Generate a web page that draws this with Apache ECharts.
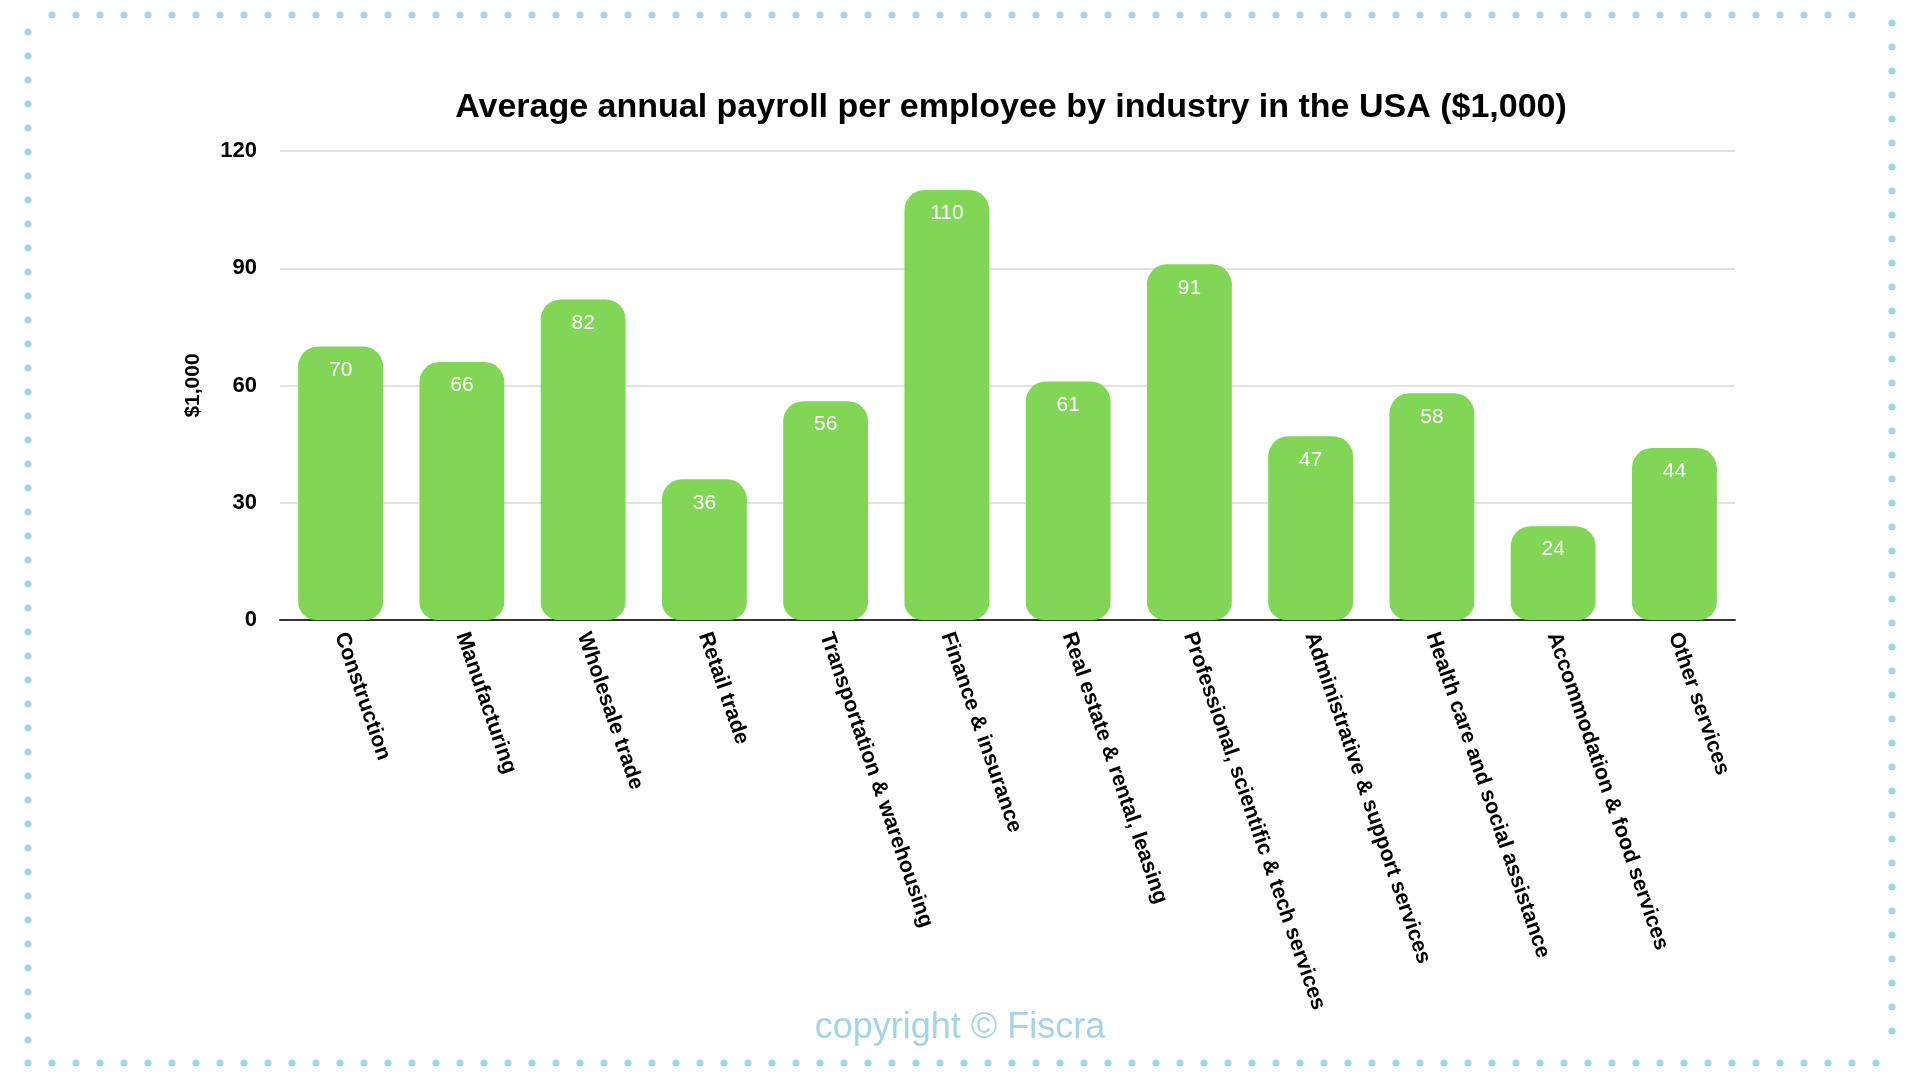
<!DOCTYPE html>
<html>
<head>
<meta charset="utf-8">
<style>
html,body{margin:0;padding:0;background:#fff;}
#chart{width:1920px;height:1080px;}
</style>
<script src="https://cdn.jsdelivr.net/npm/echarts@6/dist/echarts.min.js"></script>
</head>
<body>
<div id="chart"></div>
<script>
const categories = ["Construction","Manufacturing","Wholesale trade","Retail trade","Transportation & warehousing","Finance & insurance","Real estate & rental, leasing","Professional, scientific & tech services","Administrative & support services","Health care and social assistance","Accommodation & food services","Other services"];
const values = [70,66,82,36,56,110,61,91,47,58,24,44];
const yTicks = [0,30,60,90,120];

const FONT = '"Liberation Sans", Arial, Helvetica, sans-serif';
const DOT = '#a3d4ea';

// decorative dotted frame
const frame = [];
for (let x = 52; x <= 1870; x += 24) frame.push({type:'circle', shape:{cx:x, cy:15, r:3.6}, style:{fill:DOT}, silent:true});
for (let x = 28; x <= 1880; x += 24) frame.push({type:'circle', shape:{cx:x, cy:1063, r:3.6}, style:{fill:DOT}, silent:true});
for (let y = 32; y <= 1050; y += 24) frame.push({type:'circle', shape:{cx:28, cy:y, r:3.6}, style:{fill:DOT}, silent:true});
for (let y = 23; y <= 1050; y += 24) frame.push({type:'circle', shape:{cx:1892, cy:y, r:3.6}, style:{fill:DOT}, silent:true});
frame.push({type:'text', left:'center', top:1010, style:{text:'copyright \u00a9 Fiscra', font:'36px ' + FONT, fill:DOT}, silent:true});

const chart = echarts.init(document.getElementById('chart'), null, {renderer:'canvas'});
chart.setOption({
  backgroundColor:'#ffffff',
  animation:false,
  title:{
    text:'Average annual payroll per employee by industry in the USA ($1,000)',
    left:1006, textAlign:'center', top:86,
    textStyle:{fontFamily:FONT, fontWeight:'bold', fontSize:34, color:'#000'}
  },
  grid:{left:280, right:185, top:151, bottom:460, containLabel:false},
  xAxis:{
    type:'category', data:categories,
    axisLine:{show:true, lineStyle:{color:'#333', width:2}},
    axisTick:{show:false},
    axisLabel:{rotate:-71, interval:0, margin:13, fontFamily:FONT, fontWeight:'bold', fontSize:21.5, color:'#000'}
  },
  yAxis:{
    type:'value', min:yTicks[0], max:yTicks[yTicks.length-1], interval:30,
    name:'$1,000', nameLocation:'middle', nameGap:76, nameRotate:90,
    nameTextStyle:{fontFamily:FONT, fontWeight:'bold', fontSize:21, color:'#000'},
    axisLine:{show:false}, axisTick:{show:false},
    axisLabel:{margin:23, fontFamily:FONT, fontWeight:'bold', fontSize:22, color:'#000'},
    splitLine:{lineStyle:{color:'#d9d9d9', width:1.5}}
  },
  series:[{
    type:'bar', data:values, barWidth:'70%',
    itemStyle:{color:'#82d656', borderRadius:[20,20,18,18]},
    label:{show:true, position:'insideTop', distance:13, color:'#fff', fontFamily:FONT, fontSize:21}
  }],
  graphic:frame
});
</script>
</body>
</html>
